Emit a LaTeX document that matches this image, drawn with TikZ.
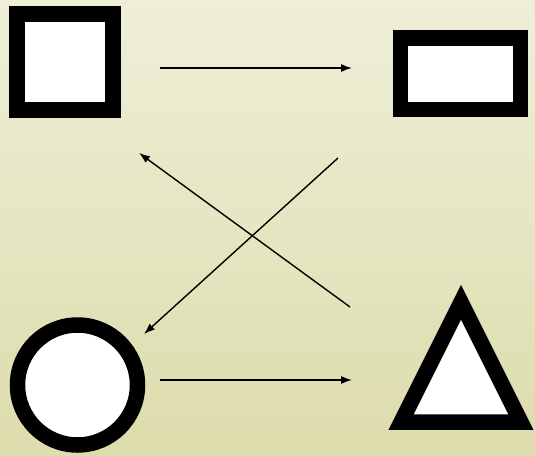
\documentclass[tikz,border=0pt]{standalone}
\usepackage{xcolor}
\usepackage{tikz}
\usetikzlibrary{arrows.meta,shapes.geometric}

\definecolor{bgtop}{RGB}{239,239,217}
\definecolor{bgbot}{RGB}{220,220,172}

\begin{document}
\begin{tikzpicture}[
x=1pt, y=-1pt,
shp/.style={draw, line width=15.5pt, fill=white, inner sep=0pt},
arr/.style={-{Latex[length=11pt,width=8pt]}, line width=1.4pt}
]
\fill[top color=bgtop, bottom color=bgbot] (0,0) rectangle (535,455);
\useasboundingbox (0,0) rectangle (535,455);

% shapes
\node[shp, minimum width=96pt, minimum height=96pt] (sq) at (64.8,61.9) {};
\node[shp, minimum width=120pt, minimum height=71.7pt] (rect) at (460.3,73.8) {};
\node[shp, circle, minimum size=120pt] (circ) at (77.5,385) {};
\node[shp, isosceles triangle, shape border rotate=90, isosceles triangle stretches,
      minimum width=120pt, minimum height=120pt, anchor=south] (tri) at (461,430) {};

% arrow ends
\coordinate (a1) at (160,68);  \coordinate (b1) at (352,68);
\coordinate (a2) at (338,158); \coordinate (b2) at (144,334);
\coordinate (a3) at (350,307); \coordinate (b3) at (139,153);
\coordinate (a4) at (160,380); \coordinate (b4) at (352,380);

\draw[arr] (a1) -- (b1);
\draw[arr] (a2) -- (b2);
\draw[arr] (a3) -- (b3);
\draw[arr] (a4) -- (b4);
\end{tikzpicture}
\end{document}
